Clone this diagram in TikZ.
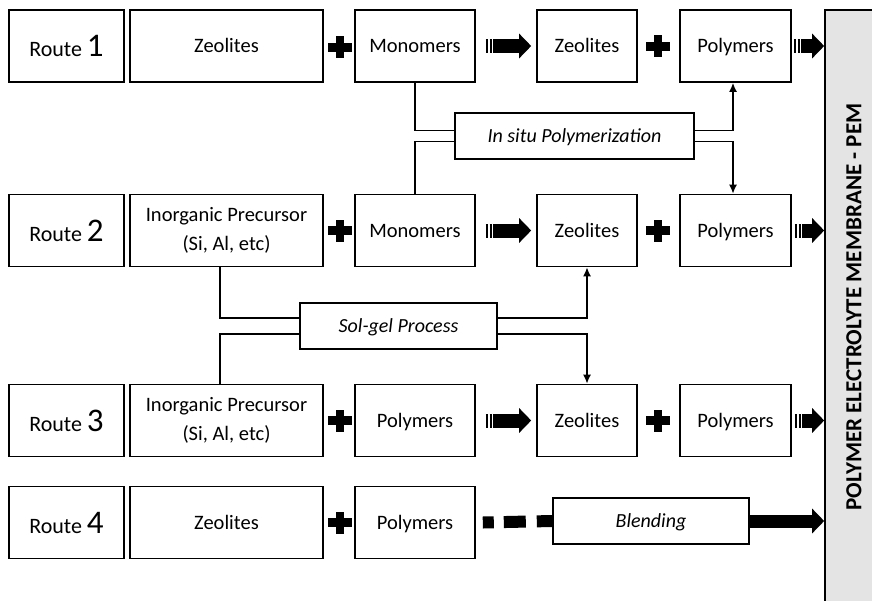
\documentclass[tikz,border=0pt]{standalone}
\usepackage{fontspec}
\setmainfont{Carlito}
\usetikzlibrary{arrows.meta}

\definecolor{pemgray}{RGB}{228,228,228}
\newcommand{\routenum}[1]{{\fontsize{33}{33}\selectfont #1}}

\tikzset{
  box/.style={draw, line width=1.6pt, minimum height=72pt, inner sep=0pt, align=center,
    font=\fontsize{20.5}{29}\selectfont},
  onebox/.style={box, text height=13pt, text depth=0pt},
  routebox/.style={box, minimum width=115pt, font=\fontsize{22}{29}\selectfont},
  procbox/.style={box, minimum height=46pt, text height=13pt, text depth=0pt,
    font=\fontsize{20}{22}\selectfont\itshape},
  thickline/.style={line width=1.6pt},
  link/.style={thickline, -{Latex[length=9pt,width=8pt]}},
  fatarrow/.style={line width=14pt,
    dash pattern=on 2.2pt off 1.6pt on 2.2pt off 1.6pt on 300pt off 0pt,
    -{Triangle[length=12pt,width=24pt]}},
  solidarrow/.style={line width=13pt, -{Triangle[length=12pt,width=24pt]}},
  plussign/.pic={
    \fill (-12,-4.5) rectangle (12,4.5);
    \fill (-4,-11) rectangle (4,11);
  }
}

\begin{document}
\begin{tikzpicture}[x=1pt,y=-1pt]
  \useasboundingbox (0,0) rectangle (872,600);
  \clip (0,0) rectangle (872,600);

  % membrane on the right
  \node[draw, line width=1.6pt, fill=pemgray, minimum width=56pt, minimum height=600pt,
    inner sep=0pt] (pem) at (853,310) {};
  \node[rotate=90, font=\fontsize{23}{23}\selectfont\bfseries] (pemlabel) at (854,307)
    {POLYMER ELECTROLYTE MEMBRANE - PEM};

  % route 1
  \node[routebox] (r1) at (66.5,46) {Route \routenum{1}};
  \node[onebox, minimum width=193pt] (zeo1a) at (226.5,46) {Zeolites};
  \pic at (340,47) {plussign};
  \node[onebox, minimum width=120pt] (mono1) at (415,46) {Monomers};
  \node[onebox, minimum width=100pt] (zeo1) at (587,46) {Zeolites};
  \pic at (658,46) {plussign};
  \node[onebox, minimum width=111pt] (poly1) at (735.5,46) {Polymers};

  % route 2
  \node[routebox] (r2) at (66.5,230.5) {Route \routenum{2}};
  \node[box, minimum width=193pt] (inorg2) at (226.5,230.5) {Inorganic Precursor\\(Si, Al, etc)};
  \pic at (340,230.5) {plussign};
  \node[onebox, minimum width=120pt] (mono2) at (415,230.5) {Monomers};
  \node[onebox, minimum width=100pt] (zeo2) at (587,230.5) {Zeolites};
  \pic at (658,230.5) {plussign};
  \node[onebox, minimum width=111pt] (poly2) at (735.5,230.5) {Polymers};

  % route 3
  \node[routebox] (r3) at (66.5,420.5) {Route \routenum{3}};
  \node[box, minimum width=193pt] (inorg3) at (226.5,420.5) {Inorganic Precursor\\(Si, Al, etc)};
  \pic at (340,420.5) {plussign};
  \node[onebox, minimum width=120pt] (poly3a) at (415,420.5) {Polymers};
  \node[onebox, minimum width=100pt] (zeo3) at (587,420.5) {Zeolites};
  \pic at (658,420.5) {plussign};
  \node[onebox, minimum width=111pt] (poly3) at (735.5,420.5) {Polymers};

  % route 4
  \node[routebox] (r4) at (66.5,522.5) {Route \routenum{4}};
  \node[onebox, minimum width=193pt] (zeo4) at (226.5,522.5) {Zeolites};
  \pic at (340,522.5) {plussign};
  \node[onebox, minimum width=120pt] (poly4) at (415,522.5) {Polymers};
  \node[procbox, minimum width=196pt] (blend) at (651,521) {Blending};

  % processes
  \node[procbox, minimum width=239pt] (insitu) at (574.5,136) {In situ Polymerization};
  \node[procbox, minimum width=197pt] (solgel) at (398.5,326) {Sol-gel Process};

  \draw[thickline] (mono1.south) |- ([yshift=5.5pt]insitu.west);
  \draw[thickline] (mono2.north) |- ([yshift=-5.5pt]insitu.west);
  \draw[link] ([yshift=5.5pt]insitu.east) -| ([xshift=-2.5pt]poly1.south);
  \draw[link] ([yshift=-5.5pt]insitu.east) -| ([xshift=-2.5pt]poly2.north);

  \draw[thickline] ([xshift=-6.5pt]inorg2.south) |- ([yshift=8pt]solgel.west);
  \draw[thickline] ([xshift=-6.5pt]inorg3.north) |- ([yshift=-8pt]solgel.west);
  \draw[link] ([yshift=8pt]solgel.east) -| (zeo2.south);
  \draw[link] ([yshift=-8pt]solgel.east) -| (zeo3.north);

  % block arrows
  \draw[fatarrow] ([xshift=10pt]mono1.east) -- ([xshift=-5pt]zeo1.west);
  \draw[fatarrow] ([xshift=10pt]mono2.east) -- ([xshift=-5pt]zeo2.west);
  \draw[fatarrow] ([xshift=10pt]poly3a.east) -- ([xshift=-5pt]zeo3.west);
  \draw[fatarrow] ([xshift=2pt]poly1.east) -- (poly1.east -| pem.west);
  \draw[fatarrow] ([xshift=3pt]poly2.east) -- (poly2.east -| pem.west);
  \draw[fatarrow] ([xshift=3pt]poly3.east) -- (poly3.east -| pem.west);
  \draw[line width=12pt, dash pattern=on 11pt off 10pt on 22pt off 11pt on 40pt off 0pt]
    ([xshift=7pt]poly4.east) -- (blend.west);
  \draw[solidarrow] (blend.east) -- (blend.east -| pem.west);
\end{tikzpicture}
\end{document}
